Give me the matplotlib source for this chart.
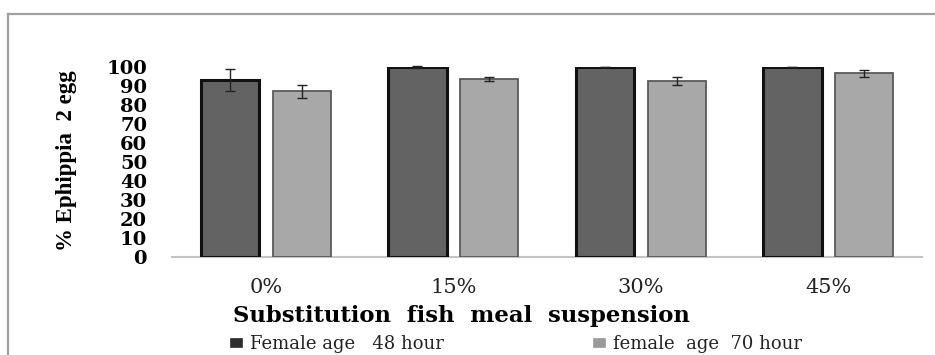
import matplotlib
matplotlib.use("Agg")
import matplotlib.pyplot as plt
import numpy as np
from matplotlib.lines import Line2D

# Data
categories = ["0%", "15%", "30%", "45%"]
female_48 = [93.0, 100.0, 100.0, 100.0]
female_48_err = [6.0, 0.5, 0.0, 0.0]
female_70 = [87.0, 93.5, 92.5, 96.5]
female_70_err = [3.5, 1.0, 2.2, 2.0]
yticks = [0, 10, 20, 30, 40, 50, 60, 70, 80, 90, 100]
series_labels = ["Female age   48 hour", "female  age  70 hour"]

W, H = 935, 355
fig = plt.figure(figsize=(W / 100, H / 100), dpi=100)
fig.patch.set_facecolor("white")

# axes rectangle in pixels: left 172, right 922, y0 at 256.7, y100 at 66.7
ax = fig.add_axes([172 / W, (H - 256.7) / H, 750 / W, 190 / H])

x = np.arange(len(categories))
width = 0.31
offset = 0.191

b1 = ax.bar(x - offset, female_48, width, color="#636363",
            edgecolor="#111111", linewidth=2.2, zorder=2,
            label=series_labels[0])
b2 = ax.bar(x + offset, female_70, width, color="#a8a8a8",
            edgecolor="#5a5a5a", linewidth=1.3, zorder=2,
            label=series_labels[1])

ax.errorbar(x - offset, female_48, yerr=female_48_err, fmt="none",
            ecolor="#222222", elinewidth=1.0, capsize=3.5, capthick=1.0,
            zorder=3, clip_on=False)
ax.errorbar(x + offset, female_70, yerr=female_70_err, fmt="none",
            ecolor="#222222", elinewidth=1.0, capsize=3.5, capthick=1.0,
            zorder=3, clip_on=False)

ax.set_xlim(-0.5, 3.5)
ax.set_ylim(0, 100)

for side in ("top", "right", "left"):
    ax.spines[side].set_visible(False)
ax.spines["bottom"].set_color("#c4c4c4")
ax.spines["bottom"].set_linewidth(1.5)
ax.spines["bottom"].set_zorder(1)

ax.set_yticks(yticks)
ax.set_yticklabels([str(v) for v in yticks],
                   fontfamily="DejaVu Serif", fontweight="bold", fontsize=14)
ax.set_xticks(x)
ax.set_xticklabels(categories, fontfamily="DejaVu Serif", fontsize=15,
                   color="#222222")
ax.tick_params(axis="y", length=0, pad=18)
ax.tick_params(axis="x", length=0, pad=15)

ax.set_ylabel("% Ephippia  2 egg", fontfamily="Liberation Serif",
              fontweight="bold", fontsize=16.5)
ax.yaxis.set_label_coords(-0.1404, 0.504)
ax.yaxis.label.set_va("center")

ax.set_xlabel("Substitution  fish  meal  suspension",
              fontfamily="DejaVu Serif", fontweight="bold", fontsize=16.4)
ax.xaxis.set_label_coords(0.386, -0.312)
ax.xaxis.label.set_va("center")

leg = fig.legend(handles=[b1, b2], labels=series_labels, ncol=2,
                 loc="center left", bbox_to_anchor=(230 / W, 1 - 344 / H),
                 frameon=False, borderpad=0, borderaxespad=0,
                 handlelength=0.66, handleheight=0.42, handletextpad=0.45,
                 columnspacing=8.25,
                 prop={"family": "DejaVu Serif", "size": 13})
for t in leg.get_texts():
    t.set_color("#222222")
leg_colors = ["#2e2e2e", "#9a9a9a"]
for h, c in zip(leg.legend_handles, leg_colors):
    h.set_facecolor(c)
    h.set_edgecolor(c)
    h.set_linewidth(0.5)

# outer frame line (left and top edges)
frame_x = 8 / W
frame_y = 1 - 14 / H
fig.add_artist(Line2D([frame_x, frame_x], [0, frame_y], transform=fig.transFigure,
                      color="#a0a0a0", linewidth=1.6))
fig.add_artist(Line2D([frame_x, 1], [frame_y, frame_y], transform=fig.transFigure,
                      color="#a0a0a0", linewidth=1.6))

fig.savefig("out.png", dpi=100, facecolor="white")
